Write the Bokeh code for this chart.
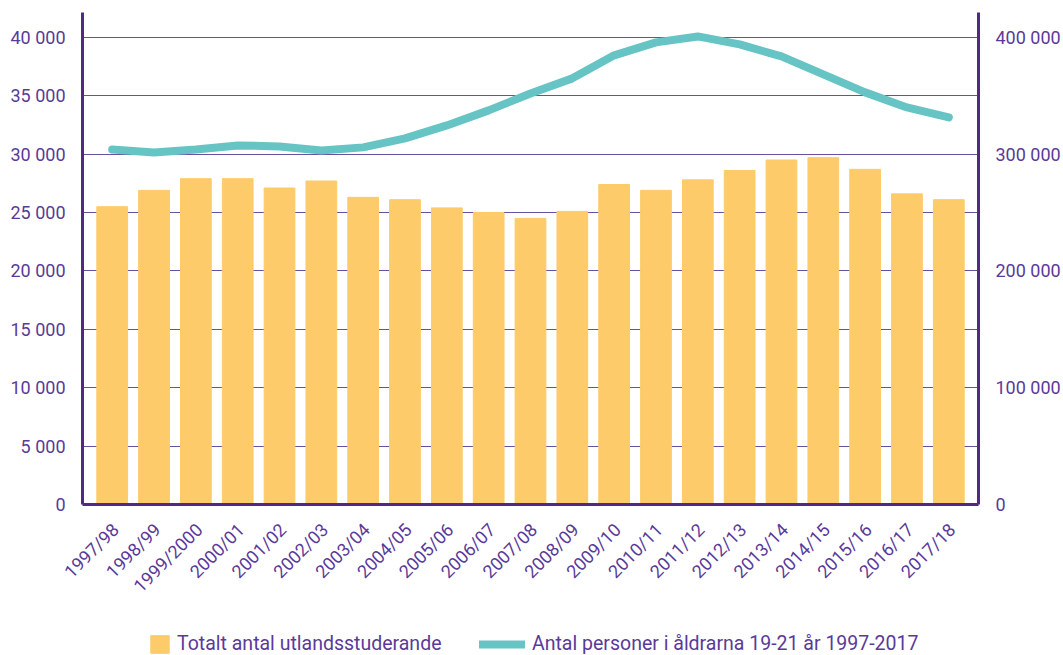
import math
from bokeh.plotting import figure
from bokeh.layouts import column
from bokeh.models import (Range1d, LinearAxis, CustomJSTickFormatter, FixedTicker,
                          Legend, LegendItem, ColumnDataSource)
from bokeh.embed import file_html
from bokeh.resources import INLINE

years = ["1997/98", "1998/99", "1999/2000", "2000/01", "2001/02", "2002/03", "2003/04",
         "2004/05", "2005/06", "2006/07", "2007/08", "2008/09", "2009/10", "2010/11",
         "2011/12", "2012/13", "2013/14", "2014/15", "2015/16", "2016/17", "2017/18"]
students = [25500, 26900, 27900, 27900, 27100, 27700, 26300, 26100, 25400, 25000, 24500,
            25100, 27400, 26900, 27800, 28600, 29500, 29700, 28700, 26600, 26100]
population = [304000, 301500, 304000, 307500, 306600, 303200, 305800, 313500, 324600,
              337500, 352000, 364900, 384600, 395700, 400800, 394000, 383700, 368300,
              352900, 340000, 331500]
left_ticks = [0, 5000, 10000, 15000, 20000, 25000, 30000, 35000, 40000]
right_ticks = [0, 100000, 200000, 300000, 400000]
legend_labels = ["Totalt antal utlandsstuderande", "Antal personer i åldrarna 19-21 år 1997-2017"]

PURPLE = "#4E2A84"
TEXT = "#5A3A98"
GRID = "#6A4FA3"
BAR = "#FDCB6A"
LINE = "#66C5C4"
FONT = "Roboto"

n = len(years)
pos = [i + 0.5 for i in range(n)]  # category slot centres
src = ColumnDataSource(dict(year=years, x=pos, students=students, population=population))
pad = n * 0.02 / 2

p = figure(width=1063, height=620, output_backend="svg", toolbar_location=None,
           x_range=Range1d(-pad, n + pad), y_range=Range1d(0, 42130),
           min_border_top=12, min_border_left=82, min_border_right=77, min_border_bottom=116)
p.extra_y_ranges = {"right": Range1d(0, 421300)}
shift = 0.08
p.extra_x_ranges = {"lbl": Range1d(-pad - shift, n + pad - shift)}
p.outline_line_color = None

fmt = CustomJSTickFormatter(code='return tick.toString().replace(/\\B(?=(\\d{3})+(?!\\d))/g, " ");')

bars = p.vbar(x="x", top="students", width=0.735, color=BAR, source=src)
line = p.line(x="x", y="population", y_range_name="right", line_color=LINE,
              line_width=8, line_cap="round", line_join="round", source=src)

p.xaxis.visible = False
xlab = LinearAxis(x_range_name="lbl", ticker=FixedTicker(ticks=pos),
                  formatter=CustomJSTickFormatter(args=dict(labels=years),
                                                  code="return labels[Math.round(tick - 0.5)];"))
p.add_layout(xlab, "below")

ax = p.yaxis[0]
ax.ticker = FixedTicker(ticks=left_ticks)
ax.formatter = fmt
raxis = LinearAxis(y_range_name="right", ticker=FixedTicker(ticks=right_ticks), formatter=fmt)
p.add_layout(raxis, "right")

for a in [ax, raxis, xlab]:
    a.axis_line_color = PURPLE
    a.axis_line_width = 3
    a.major_tick_line_color = None
    a.minor_tick_line_color = None
    a.major_label_text_color = TEXT
    a.major_label_text_font = FONT
    a.major_label_text_font_size = "18px"
    a.major_label_standoff = 11

xlab.major_label_orientation = math.pi / 4
xlab.major_label_standoff = 16

p.xgrid.grid_line_color = None
p.ygrid.ticker = FixedTicker(ticks=left_ticks[1:])
p.ygrid.grid_line_color = GRID
p.ygrid.grid_line_width = 1.2

# legend strip (its frame is aligned with the chart's frame, which starts 82px in)
lf = figure(width=1063, height=35, output_backend="svg", toolbar_location=None,
            x_range=Range1d(0, 1), y_range=Range1d(0, 1), min_border=0)
lf.axis.visible = False
lf.grid.grid_line_color = None
lf.outline_line_color = None
# legend-only renderers, placed well outside the visible area
lb = lf.vbar(x=[0.5], top=[-50], bottom=[-60], width=0.1, color=BAR)
ll = lf.line(x=[0.4, 0.6], y=[-50, -50], line_color=LINE, line_width=8, line_cap="round")

common = dict(orientation="horizontal", label_text_font=FONT, label_text_font_size="19.5px",
              label_text_color=TEXT, glyph_height=22, label_height=22, border_line_color=None,
              background_fill_alpha=0, margin=0, padding=0)
lf.add_layout(Legend(items=[LegendItem(label=legend_labels[0], renderers=[lb])],
                     location=(66, 0), glyph_width=23, label_standoff=6, **common))
lf.add_layout(Legend(items=[LegendItem(label=legend_labels[1], renderers=[ll])],
                     location=(397, 0), glyph_width=46, label_standoff=7, **common))

open("out.html", "w").write(file_html(column(p, lf, spacing=0), INLINE))
